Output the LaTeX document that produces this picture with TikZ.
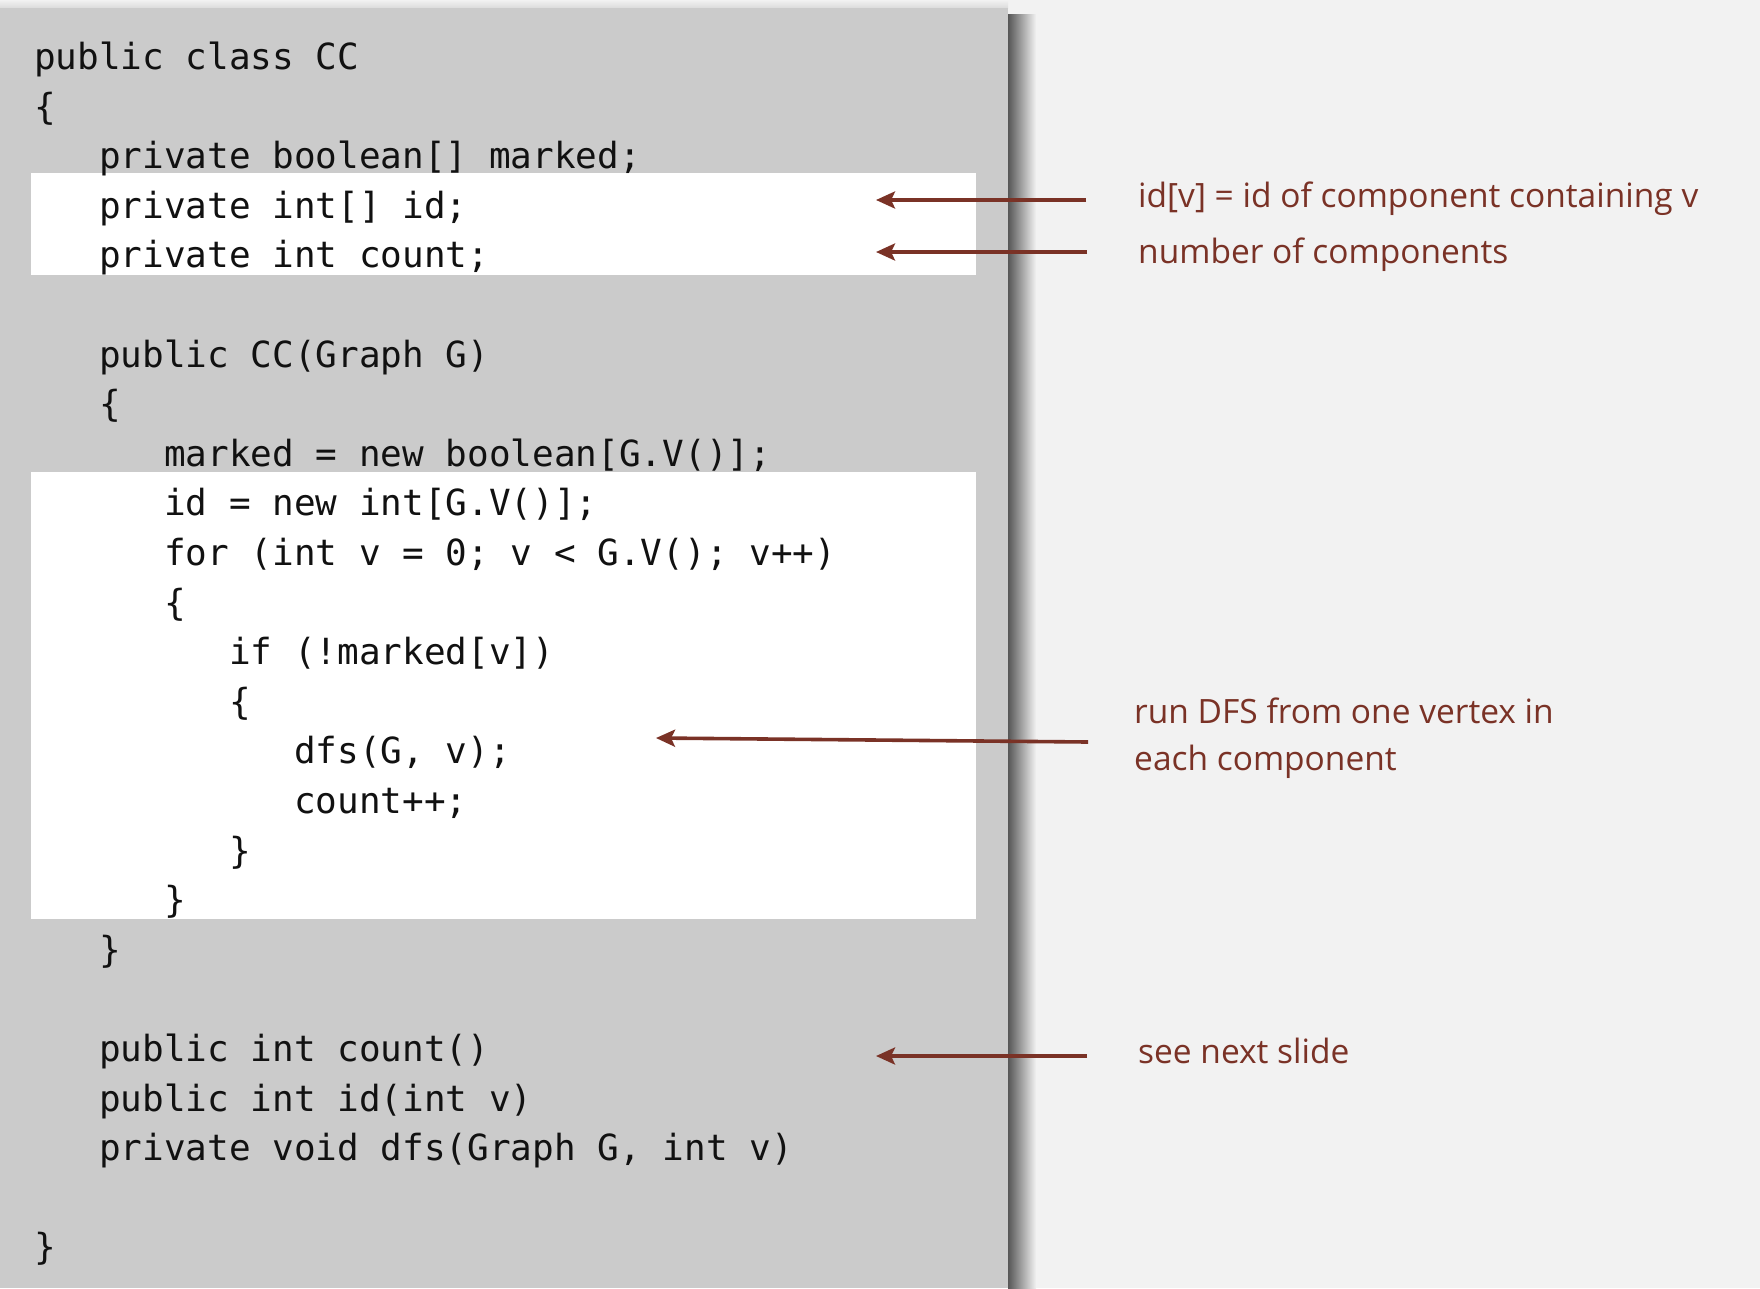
\documentclass[tikz,border=0pt]{standalone}
\usepackage{fontspec}
\setmonofont{DejaVu Sans Mono}
\newfontfamily\notefont{Open Sans}
\usetikzlibrary{arrows.meta}
\definecolor{bgc}{HTML}{F2F2F2}
\definecolor{panelc}{HTML}{CBCBCB}
\definecolor{notec}{RGB}{122,50,38}
\definecolor{codec}{HTML}{111111}
\begin{document}
\begin{tikzpicture}[x=1pt,y=-1pt,
  code/.style={anchor=base west,inner sep=0pt,font=\ttfamily\fontsize{36}{36}\selectfont,text=codec},
  note/.style={anchor=base west,inner sep=0pt,font=\notefont\fontsize{33.5}{33.5}\selectfont,text=notec},
  ptr/.style={draw=notec,line width=3.6pt,-{Stealth[length=19pt,width=17pt,inset=4pt]}}]
% background and bounding box
\fill[bgc] (0,0) rectangle (1760,1288);
\useasboundingbox (0,0) rectangle (1760,1288);
% top soft shadow and right shadow of panel
\shade[top color=bgc, bottom color=black!14] (0,0) rectangle (1008,8);
\shade[left color=black!66, right color=bgc] (1008,14) rectangle (1036,1288);
\fill[panelc] (0,8) rectangle (1008,1288);
% highlights
\fill[white] (31,173) rectangle (976,275);
\fill[white] (31,472) rectangle (976,919);
% code lines: baseline = 69.5 + 49.6*i, x = 34 + 65*level
\node[code] (c0)  at (34,69.5)    {public class CC};
\node[code] (c1)  at (34,119.1)   {\{};
\node[code] (c2)  at (99,168.7)   {private boolean[] marked;};
\node[code] (c3)  at (99,218.3)   {private int[] id;};
\node[code] (c4)  at (99,267.9)   {private int count;};
\node[code] (c6)  at (99,367.1)   {public CC(Graph G)};
\node[code] (c7)  at (99,416.7)   {\{};
\node[code] (c8)  at (164,466.3)  {marked = new boolean[G.V()];};
\node[code] (c9)  at (164,515.9)  {id = new int[G.V()];};
\node[code] (c10) at (164,565.5)  {for (int v = 0; v < G.V(); v++)};
\node[code] (c11) at (164,615.1)  {\{};
\node[code] (c12) at (229,664.7)  {if (!marked[v])};
\node[code] (c13) at (229,714.3)  {\{};
\node[code] (c14) at (294,763.9)  {dfs(G, v);};
\node[code] (c15) at (294,813.5)  {count++;};
\node[code] (c16) at (229,863.1)  {\}};
\node[code] (c17) at (164,912.7)  {\}};
\node[code] (c18) at (99,962.3)   {\}};
\node[code] (c20) at (99,1061.5)  {public int count()};
\node[code] (c21) at (99,1111.1)  {public int id(int v)};
\node[code] (c22) at (99,1160.7)  {private void dfs(Graph G, int v)};
\node[code] (c24) at (34,1259.9)  {\}};
% annotations
\node[note] (n1) at (1138,207) {id[v] = id of component containing v};
\node[note] (n2) at (1138,263) {number of components};
\node[note] (n3) at (1134,723) {run DFS from one vertex in};
\node[note] (n4) at (1134,770) {each component};
\node[note] (n5) at (1138,1063) {see next slide};
% arrow end points
\coordinate (t1) at (1086,200); \coordinate (h1) at (876,200);
\coordinate (t2) at (1087,252); \coordinate (h2) at (876,252);
\coordinate (t3) at (1088,742); \coordinate (h3) at (656,738);
\coordinate (t4) at (1087,1056); \coordinate (h4) at (876,1056);
\draw[ptr] (t1) -- (h1);
\draw[ptr] (t2) -- (h2);
\draw[ptr] (t3) -- (h3);
\draw[ptr] (t4) -- (h4);
\end{tikzpicture}
\end{document}
